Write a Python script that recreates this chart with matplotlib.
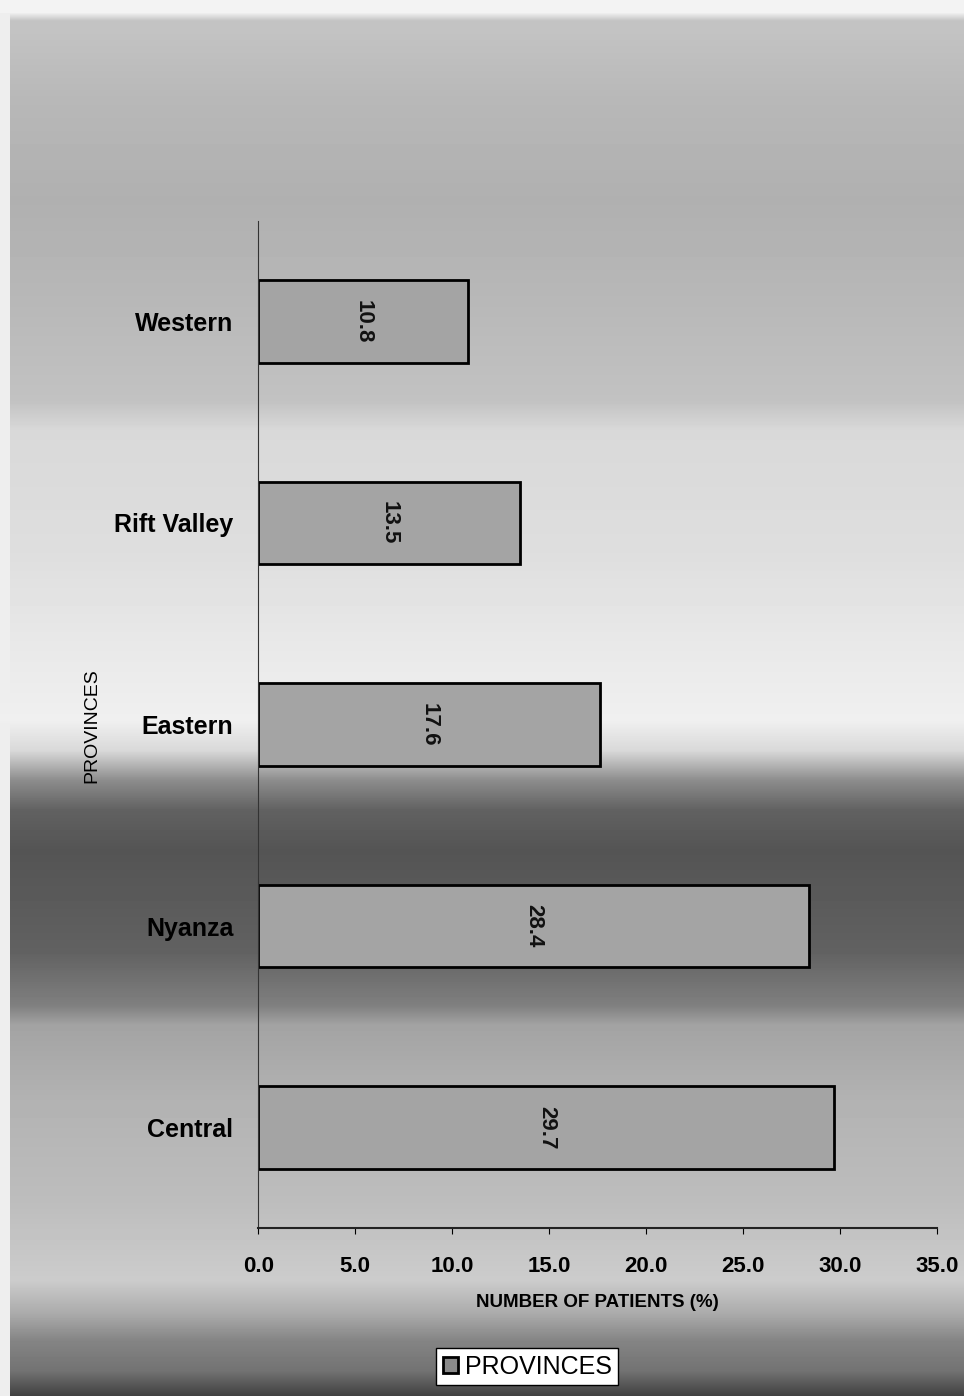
import numpy as np
import matplotlib.pyplot as plt
from matplotlib.patches import Patch

plt.rcParams['font.family'] = ['Liberation Sans', 'DejaVu Sans']

# Data
provinces = ['Central', 'Nyanza', 'Eastern', 'Rift Valley', 'Western']
patients_pct = [29.7, 28.4, 17.6, 13.5, 10.8]
x_ticks = [0, 5, 10, 15, 20, 25, 30, 35]

fig = plt.figure(figsize=(9.64, 13.96), dpi=100)

# Background shading, top to bottom (pixel row, gray level)
bg = fig.add_axes([0, 0, 1, 1], zorder=-10)
rows = np.arange(1396)
stops_y = [0, 12, 20, 100, 200, 300, 400, 430, 550, 640, 720, 750, 780, 810, 850, 950, 1005, 1025, 1100, 1200, 1280, 1315, 1340, 1370, 1396]
stops_g = [0.95, 0.95, 0.77, 0.72, 0.69, 0.72, 0.76, 0.85, 0.87, 0.91, 0.94, 0.85, 0.55, 0.38, 0.33, 0.38, 0.50, 0.64, 0.70, 0.74, 0.80, 0.66, 0.52, 0.45, 0.25]
shade = np.interp(rows, stops_y, stops_g)[:, None] * np.ones((1, 964))
shade[:, :10] = np.maximum(shade[:, :10], 0.93)
bg.imshow(shade, cmap='gray', vmin=0, vmax=1, aspect='auto', extent=[0, 964, 1396, 0])
bg.set_axis_off()

ax = fig.add_axes([0.268, 0.120, 0.704, 0.722])
ax.patch.set_alpha(0)

y = np.arange(len(provinces))
bars = ax.barh(y, patients_pct, height=0.41, color='#a4a4a4', edgecolor='black', linewidth=2)

# value labels inside the bars, rotated
for bar, v in zip(bars, patients_pct):
    ax.text(v / 2, bar.get_y() + bar.get_height() / 2, f'{v:.1f}', rotation=-90,
            ha='center', va='center', fontsize=16, fontweight='bold', color='#111111')

ax.set_xlim(0, 35)
ax.set_ylim(-0.5, 4.5)
ax.set_xticks(x_ticks)
ax.set_xticklabels([f'{t:.1f}' for t in x_ticks], fontsize=16, fontweight='bold')
ax.set_yticks(y)
ax.set_yticklabels(provinces, fontsize=18, fontweight='bold')
ax.tick_params(axis='y', length=0, pad=18)
ax.tick_params(axis='x', length=4, pad=16, direction='out')

for s in ['top', 'right']:
    ax.spines[s].set_visible(False)
ax.spines['left'].set_color('#333333')
ax.spines['bottom'].set_color('#222222')
ax.spines['bottom'].set_linewidth(1.5)

ax.set_xlabel('NUMBER OF PATIENTS (%)', fontsize=13.5, fontweight='bold', labelpad=12)
fig.text(0.095, 0.48, 'PROVINCES', rotation=90, ha='center', va='center', fontsize=14)

fig.legend(handles=[Patch(facecolor='#8a8a8a', edgecolor='black', linewidth=2, label='PROVINCES')],
           loc='center', bbox_to_anchor=(0.547, 0.021), fontsize=18, frameon=True,
           fancybox=False, edgecolor='black', framealpha=1, handlelength=0.6, handleheight=0.6,
           handletextpad=0.3, borderpad=0.25)

fig.savefig('out.png', dpi=100)
